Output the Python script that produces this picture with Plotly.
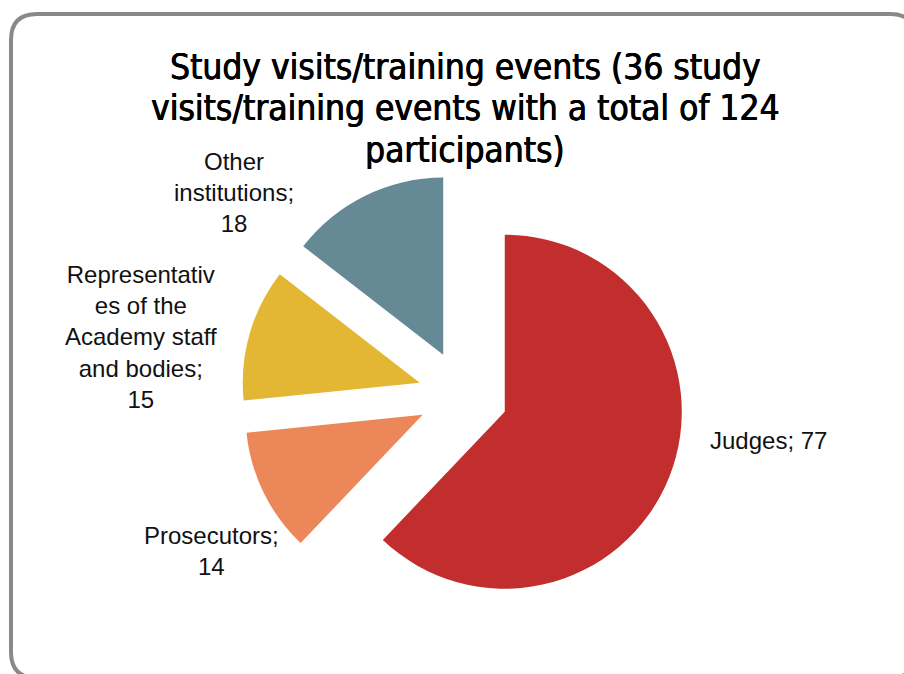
import plotly.graph_objects as go

# ---- data ----
categories = ["Judges", "Prosecutors",
              "Representatives of the Academy staff and bodies",
              "Other institutions"]
values = [77, 14, 15, 18]
label_names = ["Judges", "Prosecutors",
               "Representativ<br>es of the<br>Academy staff<br>and bodies",
               "Other<br>institutions"]
label_seps = [" ", "<br>", "<br>", "<br>"]
colors = ["#C22E2E", "#EC8759", "#E3B733", "#658A96"]
title_lines = ["Study visits/training events (36 study",
               "visits/training events with a total of 124",
               "participants)"]

W, H = 904, 674

# ---- pie geometry (pixels) ----
cx, cy, box = 463, 395, 444
pull = 0.254

fig = go.Figure(go.Pie(
    labels=categories,
    values=values,
    sort=False,
    direction="clockwise",
    rotation=0,
    pull=[pull] * len(values),
    marker=dict(colors=colors, line=dict(width=0)),
    textinfo="none",
    hoverinfo="label+value",
    showlegend=False,
    domain=dict(x=[(cx - box / 2) / W, (cx + box / 2) / W],
                y=[1 - (cy + box / 2) / H, 1 - (cy - box / 2) / H]),
))

# ---- data labels ----
label_pos = [(768, 440), (211, 551), (141, 337), (234, 192)]
annotations = []
for name, sep, v, (px, py) in zip(label_names, label_seps, values, label_pos):
    annotations.append(dict(
        text=f"{name};{sep}{v}", x=px / W, y=1 - py / H,
        xref="paper", yref="paper", showarrow=False,
        xanchor="center", yanchor="middle", align="center",
        font=dict(family="Liberation Sans, Arial, sans-serif", size=24, color="#111111"),
    ))

# ---- title lines ----
title_y = [67, 108, 150]
for line, py in zip(title_lines, title_y):
    annotations.append(dict(
        text=line, x=465 / W, y=1 - py / H,
        xref="paper", yref="paper", showarrow=False,
        xanchor="center", yanchor="middle",
        font=dict(family="DejaVu Sans Condensed, sans-serif",
                  size=35, color="#000000",
                  shadow="0.5px 0 0 #000, -0.3px 0 0 #000"),
    ))

# ---- rounded border ----
def P(x, y):
    return f"{x / W:.5f},{1 - y / H:.5f}"

L, T, R, B, rad = 11, 14, 916, 678, 26
path = (f"M {P(L + rad, T)} L {P(R - rad, T)} Q {P(R, T)} {P(R, T + rad)} "
        f"L {P(R, B - rad)} Q {P(R, B)} {P(R - rad, B)} "
        f"L {P(L + rad, B)} Q {P(L, B)} {P(L, B - rad)} "
        f"L {P(L, T + rad)} Q {P(L, T)} {P(L + rad, T)} Z")

fig.update_layout(
    width=W, height=H,
    margin=dict(l=0, r=0, t=0, b=0),
    paper_bgcolor="white",
    plot_bgcolor="white",
    annotations=annotations,
    shapes=[dict(type="path", path=path, xref="paper", yref="paper",
                 line=dict(color="#898989", width=4), fillcolor="rgba(0,0,0,0)",
                 layer="below")],
)

fig.write_html("out.html",
               config={"displayModeBar": False},
               post_script="document.body.style.margin='0';document.body.style.overflow='hidden';")
